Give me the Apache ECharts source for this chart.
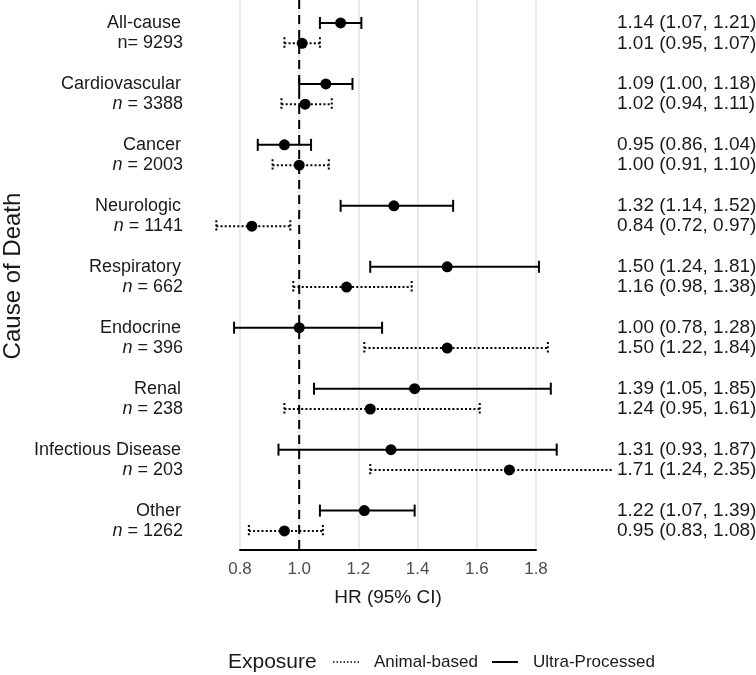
<!DOCTYPE html>
<html>
<head>
<meta charset="utf-8">
<script src="https://cdn.jsdelivr.net/npm/echarts@6/dist/echarts.min.js"></script>
<style>html,body{margin:0;padding:0;background:#fff}#c{width:756px;height:675px}</style>
</head>
<body>
<div id="c"></div>
<script>
// ---- data ----
const categories = ['All-cause','Cardiovascular','Cancer','Neurologic','Respiratory','Endocrine','Renal','Infectious Disease','Other'];
const counts = ['9293','3388','2003','1141','662','396','238','203','1262'];
const upHR = [1.14,1.09,0.95,1.32,1.50,1.00,1.39,1.31,1.22];
const upLo = [1.07,1.00,0.86,1.14,1.24,0.78,1.05,0.93,1.07];
const upHi = [1.21,1.18,1.04,1.52,1.81,1.28,1.85,1.87,1.39];
const abHR = [1.01,1.02,1.00,0.84,1.16,1.50,1.24,1.71,0.95];
const abLo = [0.95,0.94,0.91,0.72,0.98,1.22,0.95,1.24,0.83];
const abHi = [1.07,1.11,1.10,0.97,1.38,1.84,1.61,2.35,1.08];
const refLine = 1.0;
const exposures = ['Animal-based','Ultra-Processed'];

const FONT = '"Liberation Sans", Arial, Helvetica, sans-serif';
const f2 = v => v.toFixed(2);

// rows: ultra-processed at 3g, animal-based at 3g+1
const ciData = [];
const labelData = [];
const textData = [];
categories.forEach((c, g) => {
  ciData.push([3*g, upHR[g], upLo[g], upHi[g], 0]);
  ciData.push([3*g+1, abHR[g], abLo[g], abHi[g], 1]);
  labelData.push([3*g, g, 0]);
  labelData.push([3*g+1, g, 1]);
  textData.push([3*g, g, 0]);
  textData.push([3*g+1, g, 1]);
});

function renderCI(params, api) {
  const v = api.value(0), est = api.value(1), lo = api.value(2), hi = api.value(3);
  const dotted = api.value(4) === 1;
  const pLo = api.coord([lo, v]), pHi = api.coord([hi, v]), pE = api.coord([est, v]);
  const st = {stroke: '#000', lineWidth: 2, fill: null};
  if (dotted) st.lineDash = [2, 2.2];
  const cap = 6;
  return {type: 'group', children: [
    {type: 'line', shape: {x1: pLo[0], y1: pLo[1], x2: pHi[0], y2: pHi[1]}, style: Object.assign({}, st)},
    {type: 'line', shape: {x1: pLo[0], y1: pLo[1]-cap, x2: pLo[0], y2: pLo[1]+cap}, style: Object.assign({}, st)},
    {type: 'line', shape: {x1: pHi[0], y1: pHi[1]-cap, x2: pHi[0], y2: pHi[1]+cap}, style: Object.assign({}, st)},
    {type: 'circle', shape: {cx: pE[0], cy: pE[1], r: 5.5}, style: {fill: '#000', stroke: null}}
  ]};
}

function renderLabel(params, api) {
  const v = api.value(0), g = api.value(1), kind = api.value(2);
  const p = api.coord([0.8, v]);
  if (kind === 0) {
    return {type: 'text', x: p[0] - 59, y: p[1], style: {
      text: categories[g], fill: '#1a1a1a', font: '18px ' + FONT, align: 'right', verticalAlign: 'middle'}};
  }
  const txt = g === 0 ? 'n= ' + counts[g] : '{i|n} = ' + counts[g];
  return {type: 'text', x: p[0] - 57, y: p[1], style: {
    text: txt, fill: '#1a1a1a', font: '18px ' + FONT, align: 'right', verticalAlign: 'middle',
    rich: {i: {fontStyle: 'italic', fontSize: 18, fontFamily: FONT, fill: '#1a1a1a'}}}};
}

function renderText(params, api) {
  const v = api.value(0), g = api.value(1), kind = api.value(2);
  const p = api.coord([1.8, v]);
  const hr = kind === 0 ? upHR[g] : abHR[g];
  const lo = kind === 0 ? upLo[g] : abLo[g];
  const hi = kind === 0 ? upHi[g] : abHi[g];
  const x = p[0] + 81;
  return {type: 'group', children: [
    {type: 'rect', shape: {x: x - 5, y: p[1] - 10, width: 200, height: 20}, style: {fill: '#fff', stroke: null}},
    {type: 'text', x: x, y: p[1], style: {
      text: f2(hr) + ' (' + f2(lo) + ', ' + f2(hi) + ')', fill: '#1a1a1a', font: '19px ' + FONT,
      align: 'left', verticalAlign: 'middle'}}
  ]};
}

function renderRef(params, api) {
  const cs = params.coordSys;
  const p = api.coord([api.value(0), 0]);
  return {type: 'line', shape: {x1: p[0], y1: cs.y, x2: p[0], y2: cs.y + cs.height + 3},
    style: {stroke: '#000', lineWidth: 2, lineDash: [9, 6]}};
}

const chart = echarts.init(document.getElementById('c'), null, {renderer: 'canvas'});
chart.setOption({
  animation: false,
  backgroundColor: '#fff',
  textStyle: {fontFamily: FONT},
  grid: {left: 240, right: 220, top: 0, height: 550},
  xAxis: {
    type: 'value', min: 0.8, max: 1.8, interval: 0.2,
    axisLine: {show: true, onZero: false, lineStyle: {color: '#000', width: 2}},
    axisTick: {show: false},
    axisLabel: {color: '#4d4d4d', fontSize: 17, margin: 11, fontFamily: FONT, formatter: v => v.toFixed(1)},
    splitLine: {show: true, lineStyle: {color: '#e3e3e3', width: 1.5}},
    name: 'HR (95% CI)', nameLocation: 'middle', nameGap: 38,
    nameTextStyle: {fontSize: 19, color: '#1a1a1a', fontFamily: FONT}
  },
  yAxis: {
    type: 'value', inverse: true, min: -1.13, max: 25.94,
    axisLine: {show: false}, axisTick: {show: false}, axisLabel: {show: false}, splitLine: {show: false}
  },
  graphic: [
    {type: 'text', x: 13, y: 276, rotation: Math.PI/2, style: {text: 'Cause of Death', font: '24px ' + FONT, fill: '#1a1a1a', align: 'center', verticalAlign: 'middle'}},
    {type: 'text', x: 228, y: 662, style: {text: 'Exposure', font: '21px ' + FONT, fill: '#1a1a1a', align: 'left', verticalAlign: 'middle'}},
    {type: 'line', shape: {x1: 333, y1: 662, x2: 359, y2: 662}, style: {stroke: '#000', lineWidth: 1.5, lineDash: [1.5, 2]}},
    {type: 'text', x: 374, y: 662, style: {text: exposures[0], font: '17px ' + FONT, fill: '#1a1a1a', align: 'left', verticalAlign: 'middle'}},
    {type: 'line', shape: {x1: 492, y1: 662, x2: 518, y2: 662}, style: {stroke: '#000', lineWidth: 2}},
    {type: 'text', x: 533, y: 662, style: {text: exposures[1], font: '17px ' + FONT, fill: '#1a1a1a', align: 'left', verticalAlign: 'middle'}}
  ],
  series: [
    {type: 'custom', name: 'ref', z: 1, clip: false, renderItem: renderRef, data: [[refLine]], silent: true},
    {type: 'custom', name: 'ci', z: 2, clip: false, renderItem: renderCI, data: ciData, encode: {x: [1,2,3], y: 0}},
    {type: 'custom', name: 'labels', z: 3, clip: false, renderItem: renderLabel, data: labelData, encode: {y: 0}},
    {type: 'custom', name: 'text', z: 4, clip: false, renderItem: renderText, data: textData, encode: {y: 0}}
  ]
});
</script>
</body>
</html>
